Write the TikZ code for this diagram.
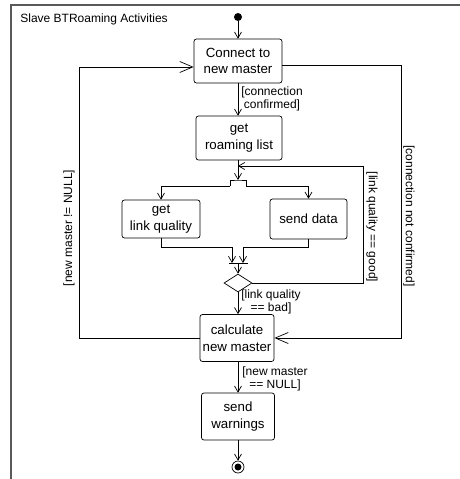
\documentclass[tikz,border=0pt]{standalone}
\usepackage{fontspec}
\setmainfont{Liberation Sans}
\usetikzlibrary{arrows.meta,shapes.geometric}

\tikzset{
  activity/.style={draw, rounded corners=2.5pt, align=center, inner sep=0pt,
    font=\fontsize{13.3}{16.5}\selectfont},
  guard/.style={inner sep=0pt, align=center, font=\fontsize{12}{12.5}\selectfont},
  flow/.style={-{Straight Barb[length=6pt,width=7pt]}},
  bigflow/.style={-{Straight Barb[length=13pt,width=11pt]}},
}

\begin{document}
\begin{tikzpicture}[x=1pt, y=-1pt, line width=0.7pt]
    \useasboundingbox (0,0) rectangle (460,479);

    % Frame
    \draw[gray!70!black, line width=1.3pt] (11,479) -- (11,5) -- (460,5);
    \node[guard, anchor=west] (title) at (20,19) {Slave BTRoaming Activities};

    % Activities
    \node[circle, fill, inner sep=0pt, minimum size=8pt] (init) at (238,17) {};
    \node[activity, minimum width=88pt, minimum height=44pt] (connect) at (238,61) {Connect to\\new master};
    \node[activity, minimum width=86pt, minimum height=44pt] (roam) at (239,138) {get\\roaming list};
    \node[activity, minimum width=78pt, minimum height=38pt] (link) at (161,219) {get\\link quality};
    \node[activity, minimum width=77pt, minimum height=40pt] (send) at (308.5,219) {send data};
    \node[diamond, draw, inner sep=0pt, aspect=1.5, minimum width=28pt, minimum height=18pt] (dec) at (238,283) {};
    \node[activity, minimum width=74pt, minimum height=47pt] (calc) at (237,338) {calculate\\new master};
    \node[activity, minimum width=73pt, minimum height=47pt] (warn) at (238,416.5) {send\\warnings};
    \node[circle, draw, inner sep=0pt, minimum size=12pt] (final) at (238,467) {};
    \fill (final) circle (3.5pt);

    % Fork and join
    \coordinate (fork) at (238,180);
    \coordinate (forkL) at (230,186);
    \coordinate (forkR) at (246,186);
    \draw (forkL) |- (fork) -| (forkR);
    \coordinate (loopin) at (238,166);
    \coordinate (join) at (238,263);
    \coordinate (joinL) at (232,263);
    \coordinate (joinR) at (243,263);
    \draw (229,263) -- (248,263);

    % Flows
    \draw[flow] (init) -- (connect);
    \draw[flow] (connect.south) -- (connect.south |- roam.north);
    \draw[flow] (roam.south -| fork) -- (fork);
    \draw[flow] (forkL) -| (link.north);
    \draw[flow] (forkR) -| (send.north);
    \draw[flow] (link.south) -- ++(0,9) -| (joinL);
    \draw[flow] (send.south) -- ++(0,8) -| (joinR);
    \draw[flow] (join) -- (dec.north);
    \draw[flow] (dec.east) -| (363,166) -- (loopin);
    \draw[flow] (dec.south) -- (dec.south |- calc.north);
    \draw[flow] (calc.south -| warn) -- (warn.north);
    \draw[flow] (warn.south) -- (final.north);

    % Loops back
    \draw[bigflow] (calc.west) -| (79,67) -- ([yshift=-6pt]connect.west);
    \draw[bigflow] ([yshift=-4pt]connect.east) -| (401,338) -- (calc.east);

    % Guards
    \node[guard] (gconf) at (272,99) {[connection\\ confirmed]};
    \node[guard] (gbad) at (271,302) {[link quality\\ == bad]};
    \node[guard] (gnull) at (275,379) {[new master\\ == NULL]};
    \node[guard, rotate=90] (gnotnull) at (69,228) {[new master != NULL]};
    \node[guard, rotate=-90] (ggood) at (372,227) {[link quality == good]};
    \node[guard, rotate=-90] (gnotconf) at (409,216) {[connection not confirmed]};
\end{tikzpicture}
\end{document}
